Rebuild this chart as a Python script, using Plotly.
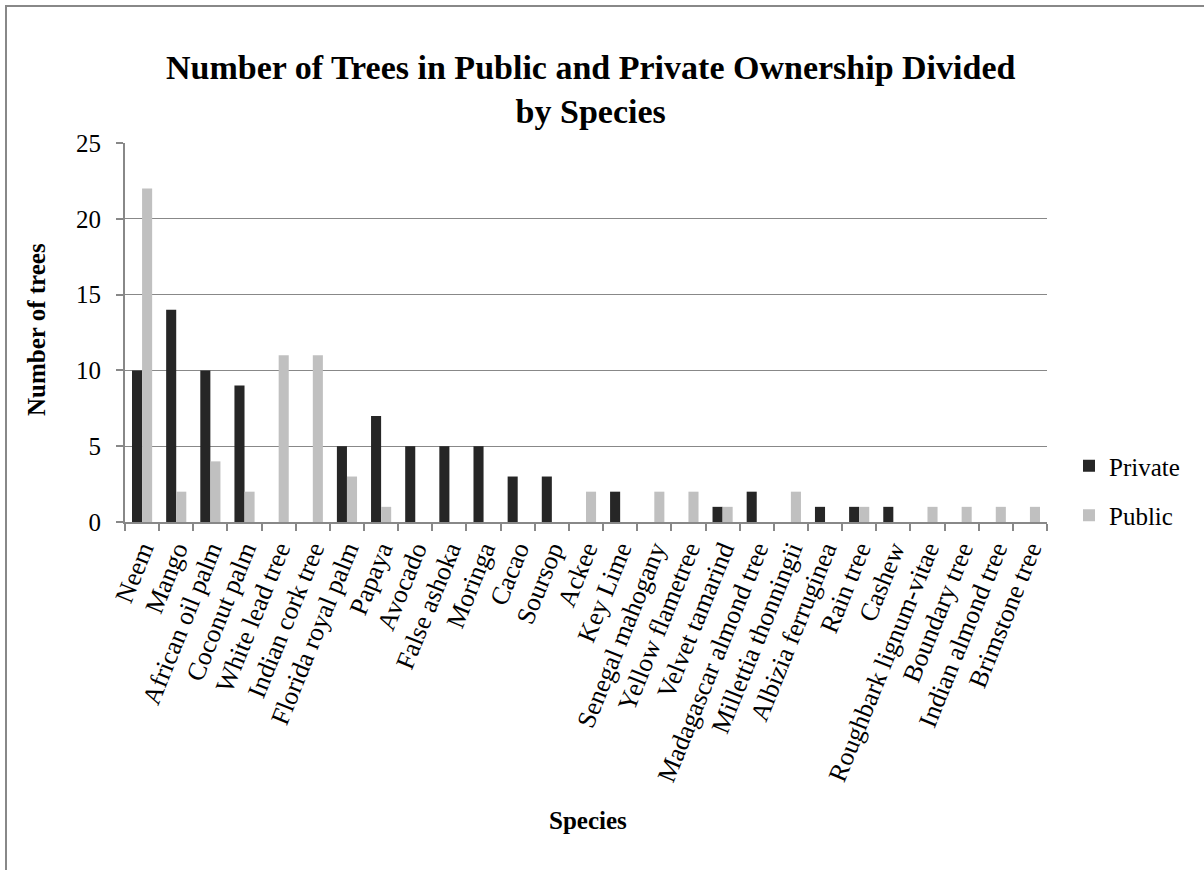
import plotly.graph_objects as go

species = ["Neem", "Mango", "African oil palm", "Coconut palm", "White lead tree",
           "Indian cork tree", "Florida royal palm", "Papaya", "Avocado", "False ashoka",
           "Moringa", "Cacao", "Soursop", "Ackee", "Key Lime", "Senegal mahogany",
           "Yellow flametree", "Velvet tamarind", "Madagascar almond tree",
           "Millettia thonningii", "Albizia ferruginea", "Rain tree", "Cashew",
           "Roughbark lignum-vitae", "Boundary tree", "Indian almond tree", "Brimstone tree"]
private = [10, 14, 10, 9, 0, 0, 5, 7, 5, 5, 5, 3, 3, 0, 2, 0, 0, 1, 2, 0, 1, 1, 1, 0, 0, 0, 0]
public = [22, 2, 4, 2, 11, 11, 3, 1, 0, 0, 0, 0, 0, 2, 0, 2, 2, 1, 0, 2, 0, 1, 0, 1, 1, 1, 1]

title_text = "Number of Trees in Public and Private Ownership Divided<br>by Species"
x_title = "Species"
y_title = "Number of trees"

FONT = "Liberation Serif"

fig = go.Figure()
fig.add_trace(go.Bar(x=species, y=private, name="Private", marker_color="#262626",
                     marker_line_width=0, legendgroup="a"))
fig.add_trace(go.Bar(x=species, y=public, name="Public", marker_color="#c0c0c0",
                     marker_line_width=0, legendgroup="b"))

L, R, T, B = 125, 1047, 143, 522
W, H = 1204, 870

def px(x):
    return (x - L) / (R - L)

def py(y):
    return (B - y) / (B - T)

annotations = [
    dict(text="<b>%s</b>" % title_text, x=px(591), y=py(90), xref="paper", yref="paper",
         xanchor="center", yanchor="middle", showarrow=False,
         font=dict(family=FONT, size=34, color="black")),
    dict(text="<b>%s</b>" % x_title, x=px(588), y=py(820), xref="paper", yref="paper",
         xanchor="center", yanchor="middle", showarrow=False,
         font=dict(family=FONT, size=25, color="black")),
    dict(text="<b>%s</b>" % y_title, x=px(36), y=py(330), xref="paper", yref="paper",
         xanchor="center", yanchor="middle", showarrow=False, textangle=-90,
         font=dict(family=FONT, size=25, color="black")),
]

fig.update_layout(
    width=W, height=H,
    margin=dict(l=L, r=W - R, t=T, b=H - B),
    paper_bgcolor="white", plot_bgcolor="white",
    barmode="group", bargap=0.41, bargroupgap=0,
    font=dict(family=FONT, size=24, color="black"),
    showlegend=True,
    legend=dict(x=px(1069), xanchor="left", y=py(443), yanchor="top",
                font=dict(family=FONT, size=25), traceorder="grouped", tracegroupgap=14,
                itemsizing="constant", bgcolor="rgba(0,0,0,0)"),
    xaxis=dict(
        tickangle=-68, tickfont=dict(family=FONT, size=26),
        showline=True, linecolor="#888888", linewidth=2,
        ticks="outside", ticklen=7, tickcolor="#888888", tickwidth=2,
        tickson="boundaries", showgrid=False,
    ),
    yaxis=dict(
        range=[0, 25], tickvals=[0, 5, 10, 15, 20, 25], tickfont=dict(family=FONT, size=25),
        showline=True, linecolor="#888888", linewidth=2,
        ticks="outside", ticklen=7, tickcolor="#888888", tickwidth=2,
        ticklabelstandoff=10,
        showgrid=True, gridcolor="#888888", gridwidth=1.3, zeroline=False,
    ),
    annotations=annotations,
    shapes=[dict(type="rect", xref="paper", yref="paper",
                 x0=px(6), x1=px(1260), y0=py(920), y1=py(6),
                 line=dict(color="#888888", width=2), fillcolor="rgba(0,0,0,0)", layer="below")],
)

fig.write_html("out.html", config={"displayModeBar": False},
               post_script="document.body.style.margin='0';")
